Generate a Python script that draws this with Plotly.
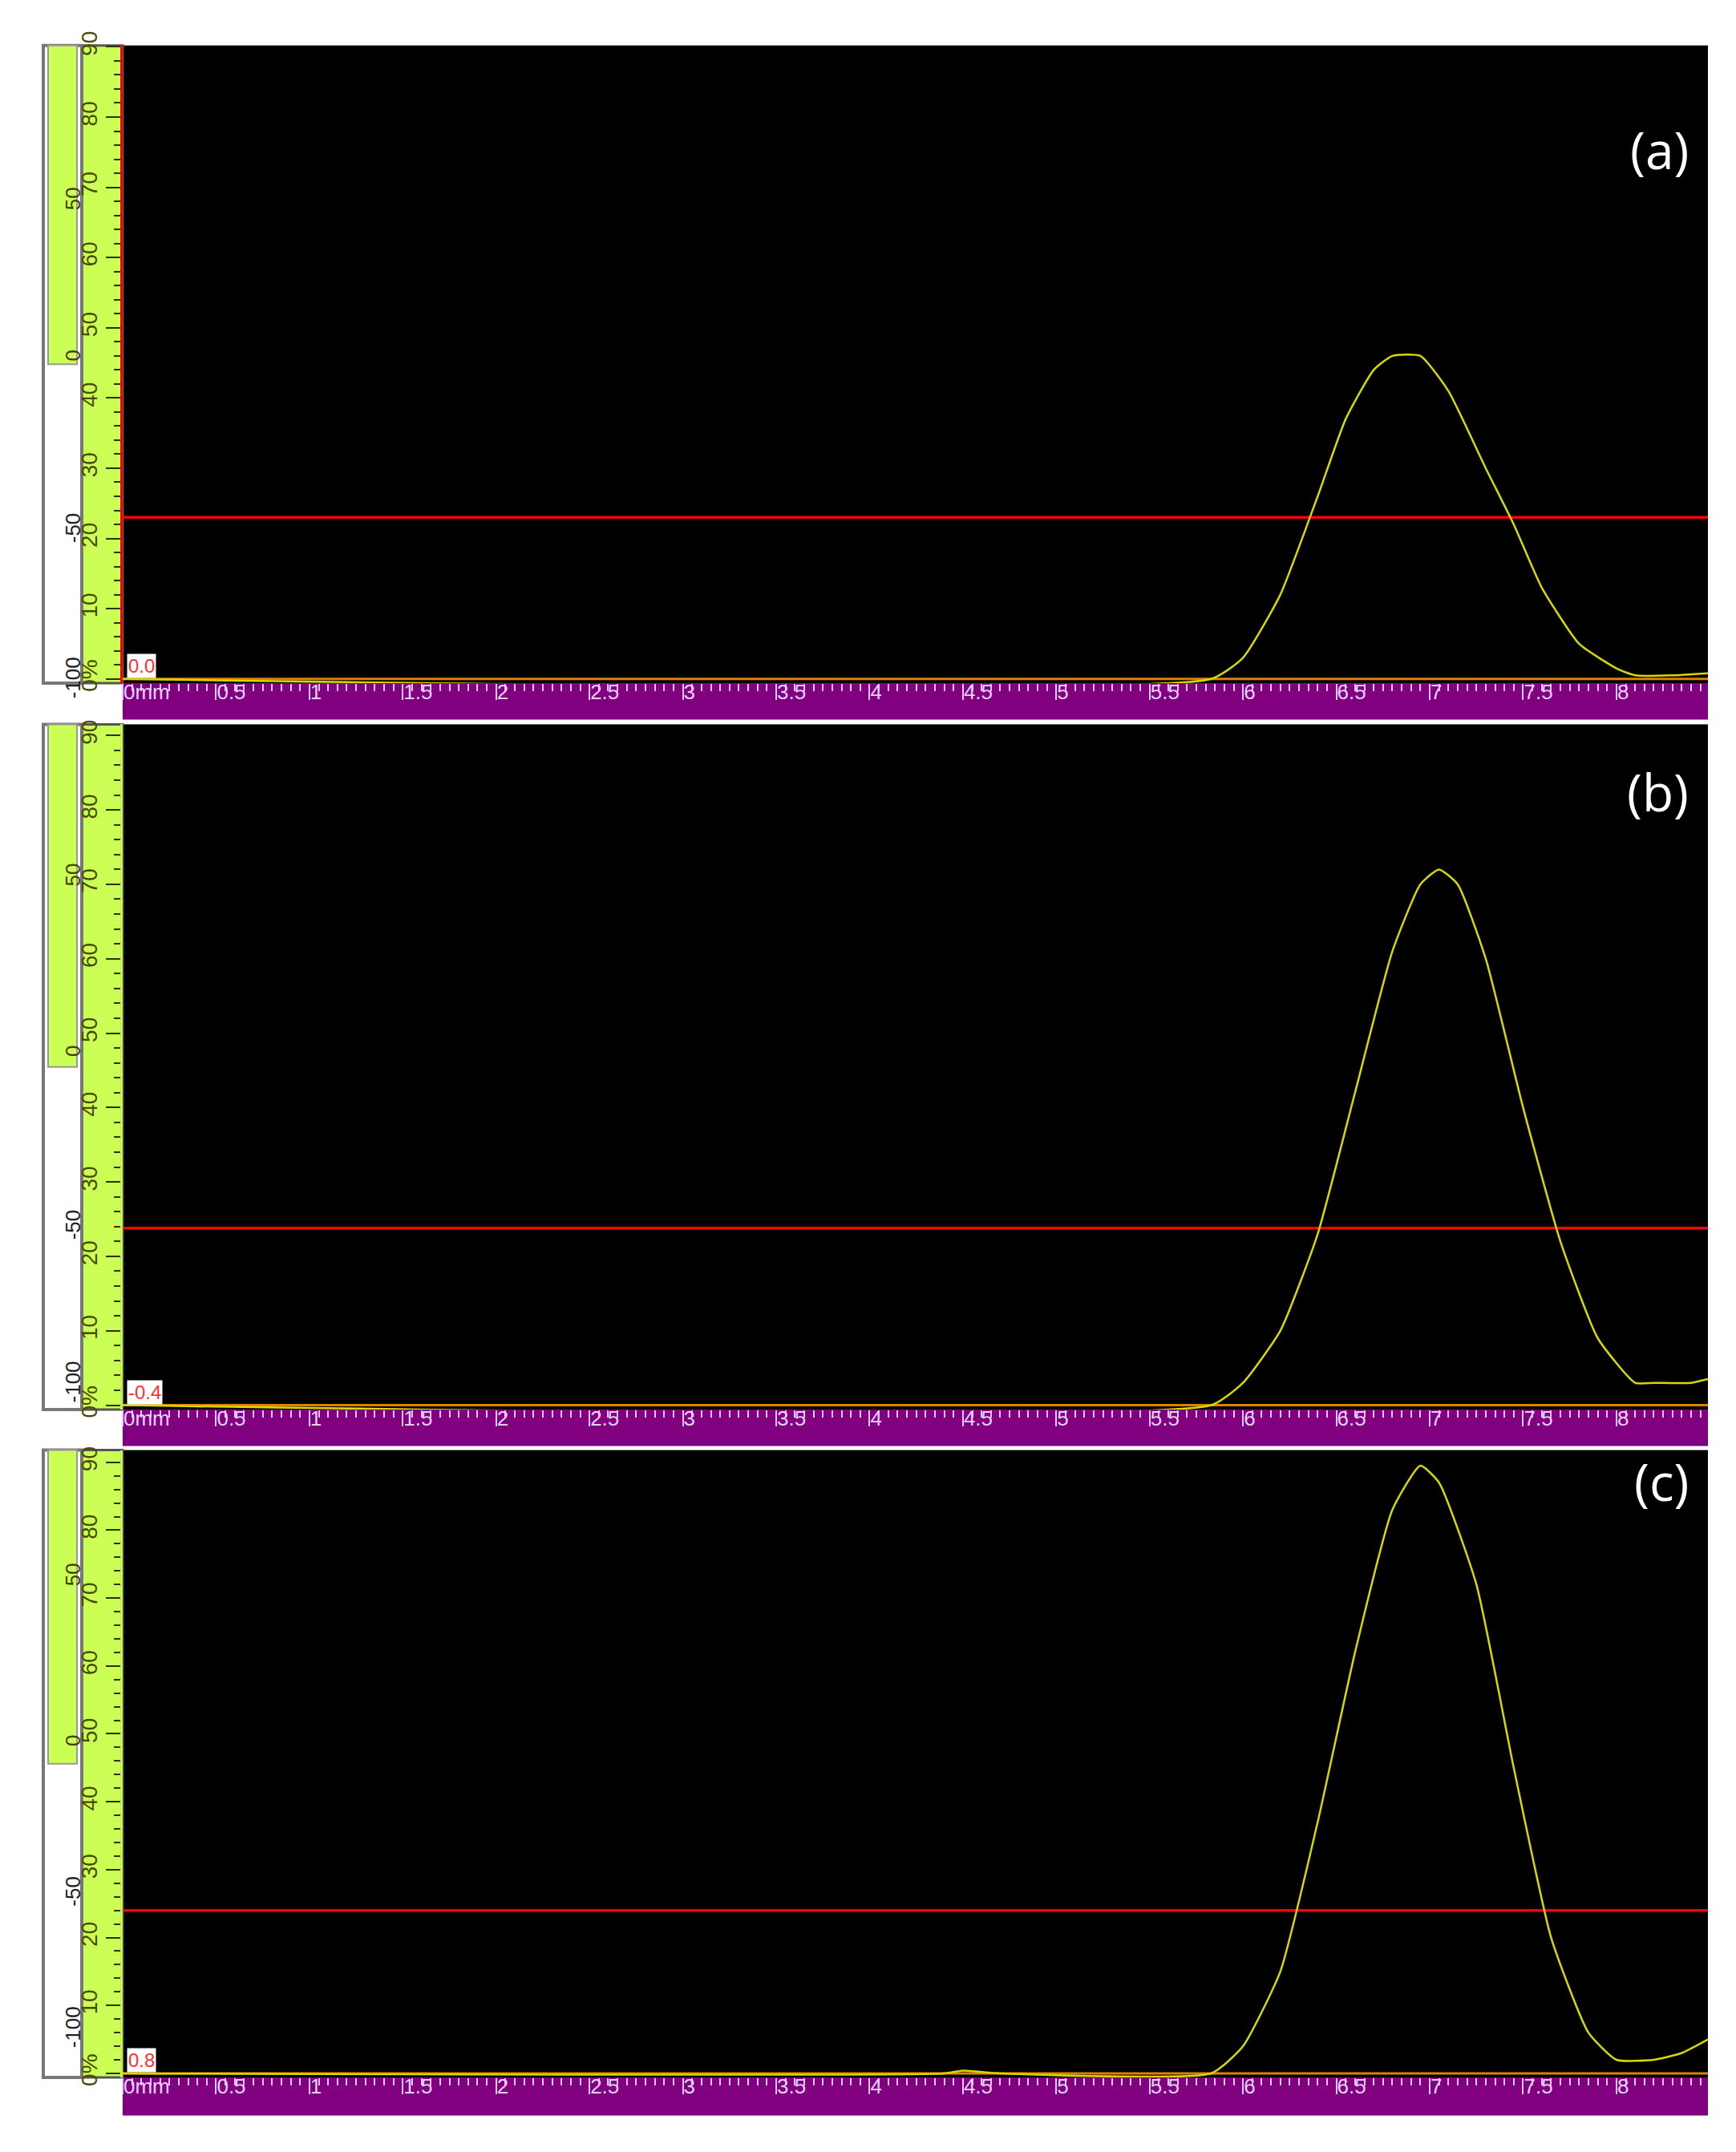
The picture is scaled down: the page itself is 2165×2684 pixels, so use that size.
import plotly.graph_objects as go

W, H = 2165, 2684
panel_labels = ["(a)", "(b)", "(c)"]
offset_labels = ["0.0", "-0.4", "0.8"]
gate_levels = [23.0, 23.8, 24.0]

x_a = [0, 5.83, 6.0, 6.2, 6.4, 6.55, 6.7, 6.8, 6.95, 7.1, 7.3, 7.45, 7.6, 7.8, 8.0, 8.1, 8.3, 8.49]
y_a = [0.0, 0.0, 3, 12, 26, 37, 44, 46, 46, 41, 30, 22, 13, 5, 1.5, 0.5, 0.5, 0.8]
x_b = [0, 5.83, 6.0, 6.2, 6.4, 6.6, 6.8, 6.95, 7.05, 7.15, 7.3, 7.5, 7.7, 7.9, 8.1, 8.2, 8.4, 8.49]
y_b = [0.0, 0.0, 3, 10, 23, 42, 61, 70, 72, 70, 60, 40, 22, 9, 3, 3, 3, 3.5]
x_c = [0, 4.4, 4.5, 4.7, 5.83, 6.0, 6.2, 6.4, 6.6, 6.8, 6.95, 7.05, 7.25, 7.45, 7.65, 7.85, 8.0, 8.2, 8.35, 8.49]
y_c = [0.0, 0.0, 0.4, 0.0, 0.0, 4, 15, 37, 62, 83, 89.5, 87, 72, 45, 20, 6, 2, 2, 3, 5]
xs = [x_a, x_b, x_c]
ys = [y_a, y_b, y_c]

x_tickvals = [0, 0.5, 1, 1.5, 2, 2.5, 3, 3.5, 4, 4.5, 5, 5.5, 6, 6.5, 7, 7.5, 8]
x_ticktext = ["0mm", "0.5", "1", "1.5", "2", "2.5", "3", "3.5", "4", "4.5", "5", "5.5", "6", "6.5", "7", "7.5", "8"]
y_tickvals = [0, 10, 20, 30, 40, 50, 60, 70, 80, 90]
y_ticktext = ["0%", "10", "20", "30", "40", "50", "60", "70", "80", "90"]
strip_labels = ["50", "0", "-50", "-100"]

panels = [(31, 835, 881), (887, 1751, 1797), (1802, 2593, 2641)]
yranges = [[-0.6, 90.2], [-0.6, 91.5], [-0.6, 91.8]]
PX0, PX1 = 145, 2122

def fx(p): return p / W
def fy(p): return 1 - p / H

fig = go.Figure()
shapes, annos = [], []
for i, (t, b, pb) in enumerate(panels):
    n = "" if i == 0 else str(i + 1)
    fig.add_trace(go.Scatter(x=[0, 8.49], y=[0, 0], mode="lines",
                             line=dict(color="#e08000", width=3), xaxis="x" + n, yaxis="y" + n,
                             showlegend=False, hoverinfo="skip"))
    fig.add_trace(go.Scatter(x=[0, 8.49], y=[gate_levels[i]] * 2, mode="lines",
                             line=dict(color="#ff0000", width=3.5), xaxis="x" + n, yaxis="y" + n,
                             showlegend=False))
    fig.add_trace(go.Scatter(x=xs[i], y=ys[i], mode="lines", line=dict(color="#d8d800", width=2.5, shape="spline", smoothing=0.5),
                             xaxis="x" + n, yaxis="y" + n, showlegend=False))
    dom_y = [fy(b), fy(t)]
    fig.layout["xaxis" + n] = dict(domain=[fx(PX0), fx(PX1)], anchor="y" + n, range=[0, 8.49],
                                   tickvals=x_tickvals, ticktext=x_ticktext, ticks="outside", ticklen=20,
                                   tickcolor="#e8c8ff", tickwidth=2, showgrid=False, zeroline=False,
                                   ticklabelposition="outside right", ticklabelstandoff=-12,
                                   tickfont=dict(color="#e8d0ff", size=26, family="Liberation Sans"),
                                   minor=dict(dtick=0.05, ticks="outside", ticklen=9, tickcolor="#e8c8ff", tickwidth=2),
                                   showline=False, fixedrange=True)
    fig.layout["yaxis" + n] = dict(domain=dom_y, anchor="x" + n, range=yranges[i],
                                   tickvals=y_tickvals, ticktext=y_ticktext, ticks="outside", ticklen=18,
                                   tickcolor="#333300", tickwidth=2, showgrid=False, zeroline=False,
                                   tickangle=-90, tickfont=dict(color="#4a4a00", size=28, family="Liberation Sans"),
                                   minor=dict(dtick=2, ticks="outside", ticklen=8, tickcolor="#333300", tickwidth=2),
                                   showline=True, linecolor="#ff0000" if i == 0 else "#c8f050", linewidth=3)
    shapes.append(dict(type="rect", xref="paper", yref="paper", x0=fx(PX0), x1=fx(PX1), y0=fy(pb), y1=fy(b),
                       fillcolor="#800080", line=dict(width=0), layer="below"))
    shapes.append(dict(type="rect", xref="paper", yref="paper", x0=fx(94), x1=fx(PX0), y0=fy(b), y1=fy(t),
                       fillcolor="#ccff55", line=dict(color="#555555", width=3), layer="below"))
    mid = (t + b) / 2
    shapes.append(dict(type="rect", xref="paper", yref="paper", x0=fx(46), x1=fx(94), y0=fy(b), y1=fy(t),
                       fillcolor="white", line=dict(color="#777777", width=4), layer="below"))
    shapes.append(dict(type="rect", xref="paper", yref="paper", x0=fx(52), x1=fx(88), y0=fy(mid), y1=fy(t),
                       fillcolor="#ccff55", line=dict(color="#999999", width=2), layer="below"))
    for j, lab in enumerate(strip_labels):
        yy = [t + 0.22 * (b - t), mid - 20, t + 0.73 * (b - t), b - 35][j]
        annos.append(dict(xref="paper", yref="paper", x=fx(66), y=fy(yy), text=lab, showarrow=False,
                          textangle=-90, font=dict(size=26, color="#444400" if j < 2 else "#222222", family="Liberation Sans")))
    annos.append(dict(xref="paper", yref="paper", x=fx(2100), y=fy(t + 85), text=panel_labels[i], showarrow=False,
                      xanchor="right", font=dict(size=64, color="white", family="Open Sans")))
    annos.append(dict(xref="paper", yref="paper", x=fx(150), y=fy(b - 6), text=offset_labels[i], showarrow=False,
                      xanchor="left", yanchor="bottom", bgcolor="white",
                      font=dict(size=24, color="#ff3030", family="Liberation Sans")))

fig.update_layout(width=W, height=H, margin=dict(l=0, r=0, t=0, b=0), paper_bgcolor="white",
                  plot_bgcolor="black", shapes=shapes, annotations=annos)
fig.write_html("out.html")
